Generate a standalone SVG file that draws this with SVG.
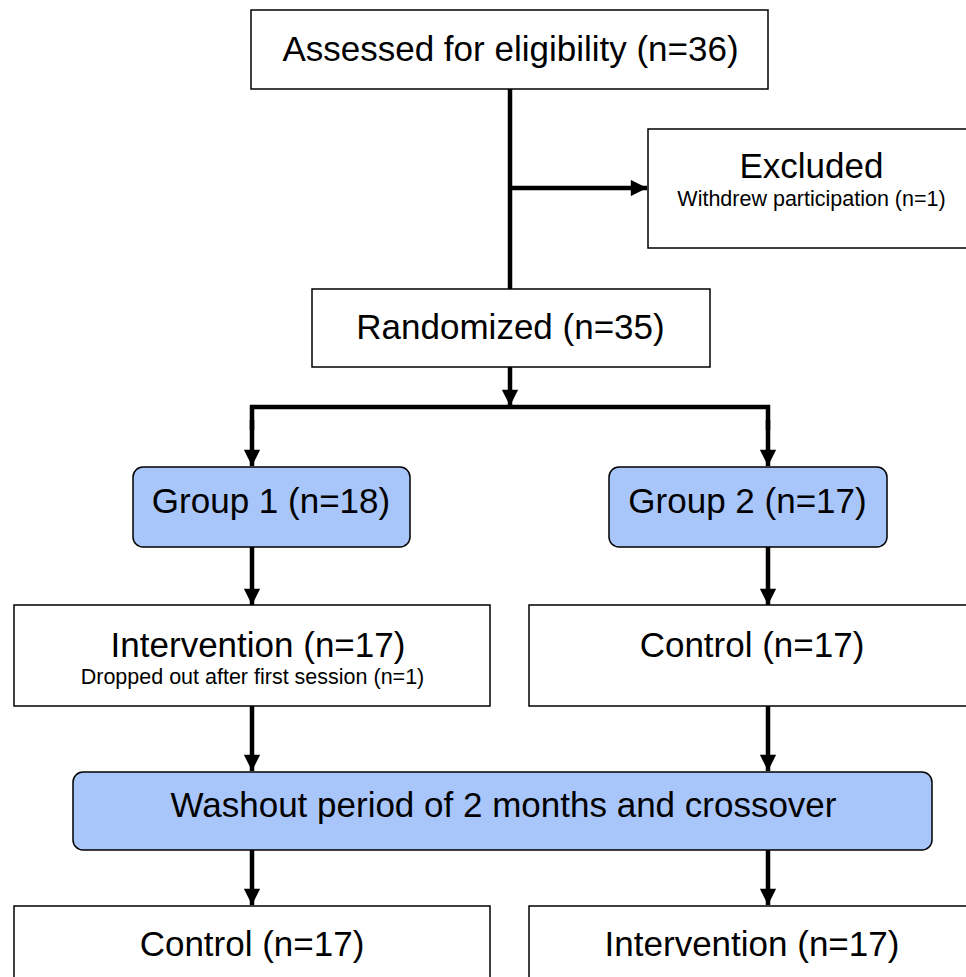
<svg xmlns="http://www.w3.org/2000/svg" width="966" height="977" viewBox="0 0 966 977">
<defs>
<style>
.box{fill:#fff;stroke:#000;stroke-width:1.5}
.blue{fill:#a9c6fa;stroke:#000;stroke-width:1.5}
.t{font-family:"Liberation Sans",Arial,sans-serif;font-size:35px;fill:#000;text-anchor:middle}
.s{font-family:"Liberation Sans",Arial,sans-serif;font-size:21.5px;fill:#000;text-anchor:middle}
.c{stroke:#000;stroke-width:4.5;fill:none}
</style>
<marker id="ah" viewBox="0 0 10 10" refX="10" refY="5" markerWidth="4" markerHeight="3.6" orient="auto" markerUnits="strokeWidth">
<path d="M0,0 L10,5 L0,10 z" fill="#000"/>
</marker>
</defs>
<rect width="966" height="977" fill="#fff"/>
<g id="connectors">
<line class="c" x1="510" y1="89" x2="510" y2="290"/>
<line class="c" x1="508" y1="188" x2="647" y2="188" marker-end="url(#ah)"/>
<line class="c" x1="510" y1="367" x2="510" y2="406" marker-end="url(#ah)"/>
<polyline class="c" points="252,430 252,407 768,407 768,430"/>
<line class="c" x1="252" y1="420" x2="252" y2="466" marker-end="url(#ah)"/>
<line class="c" x1="768" y1="420" x2="768" y2="466" marker-end="url(#ah)"/>
<line class="c" x1="252" y1="547" x2="252" y2="605" marker-end="url(#ah)"/>
<line class="c" x1="768" y1="547" x2="768" y2="605" marker-end="url(#ah)"/>
<line class="c" x1="252" y1="706" x2="252" y2="771" marker-end="url(#ah)"/>
<line class="c" x1="768" y1="706" x2="768" y2="771" marker-end="url(#ah)"/>
<line class="c" x1="252" y1="850" x2="252" y2="905" marker-end="url(#ah)"/>
<line class="c" x1="768" y1="850" x2="768" y2="905" marker-end="url(#ah)"/>
</g>
<g id="assessed">
<rect class="box" x="251" y="10" width="517" height="79"/>
<text class="t" x="510.5" y="61">Assessed for eligibility (n=36)</text>
</g>
<g id="excluded">
<rect class="box" x="648" y="129" width="320" height="119"/>
<text class="t" x="811.5" y="178">Excluded</text>
<text class="s" x="811.5" y="206">Withdrew participation (n=1)</text>
</g>
<g id="randomized">
<rect class="box" x="312" y="289" width="398" height="78"/>
<text class="t" x="510.5" y="339">Randomized (n=35)</text>
</g>
<g id="group1">
<rect class="blue" x="133" y="467" width="277" height="80" rx="10"/>
<text class="t" x="271" y="513">Group 1 (n=18)</text>
</g>
<g id="group2">
<rect class="blue" x="609" y="467" width="278" height="80" rx="10"/>
<text class="t" x="747.5" y="513">Group 2 (n=17)</text>
</g>
<g id="intervention1">
<rect class="box" x="14" y="605" width="476" height="101"/>
<text class="t" x="258" y="657">Intervention (n=17)</text>
<text class="s" x="252.5" y="684">Dropped out after first session (n=1)</text>
</g>
<g id="control1">
<rect class="box" x="529" y="605" width="439" height="101"/>
<text class="t" x="752" y="657">Control (n=17)</text>
</g>
<g id="washout">
<rect class="blue" x="73" y="772" width="859" height="78" rx="10"/>
<text class="t" x="503.5" y="817">Washout period of 2 months and crossover</text>
</g>
<g id="control2">
<rect class="box" x="14" y="906" width="476" height="80"/>
<text class="t" x="252" y="956">Control (n=17)</text>
</g>
<g id="intervention2">
<rect class="box" x="529" y="906" width="439" height="80"/>
<text class="t" x="752" y="956">Intervention (n=17)</text>
</g>
</svg>
